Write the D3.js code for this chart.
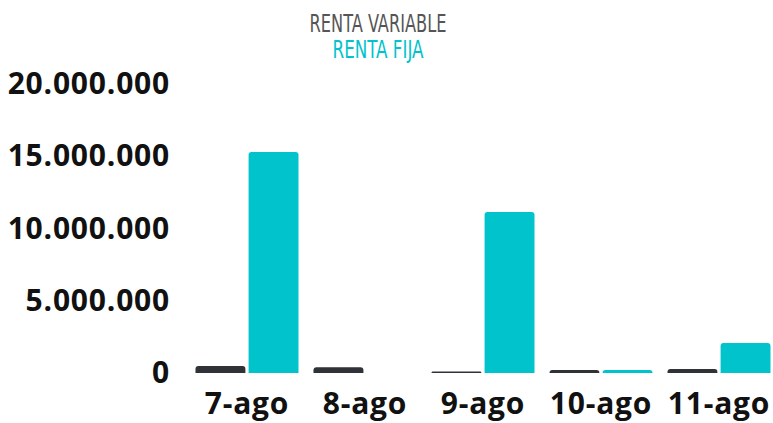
<!DOCTYPE html>
<html>
<head>
<meta charset="utf-8">
<script src="https://cdn.jsdelivr.net/npm/d3@7"></script>
<style>
  body { margin: 0; background: #fff; }
  .axis text { font-family: "Open Sans", sans-serif; font-weight: 700; fill: #111; }
  .legend text { font-family: "DejaVu Sans Condensed", "Liberation Sans", sans-serif; }
</style>
</head>
<body>
<div id="chart"></div>
<script>
var categories = ["7-ago", "8-ago", "9-ago", "10-ago", "11-ago"];
var seriesNames = ["RENTA VARIABLE", "RENTA FIJA"];
var rentaVariable = [480000, 400000, 100000, 200000, 270000];
var rentaFija = [15300000, 0, 11150000, 200000, 2080000];
var yTicks = [0, 5000000, 10000000, 15000000, 20000000];
var colors = ["#2f3337", "#00c3cc"];

var width = 773, height = 423;

var svg = d3.select("#chart").append("svg")
    .attr("width", width).attr("height", height);

// group scale, the last group runs off the right edge like in the original
var x0 = d3.scaleBand().domain(categories).range([188, 778])
    .paddingInner(0.127).paddingOuter(0.0635);
var x1 = d3.scaleBand().domain(seriesNames).range([0, x0.bandwidth()]).paddingInner(0.06);
var y = d3.scaleLinear().domain([0, 20000000]).range([373, 84]);

var fmt = function(d) { return d3.format(",")(d).replace(/,/g, "."); };

// bars with rounded top corners
function barPath(x, yTop, w, base) {
  var h = base - yTop;
  var r = Math.min(3, w / 2, h);
  return "M" + x + "," + base +
    "V" + (yTop + r) +
    "Q" + x + "," + yTop + " " + (x + r) + "," + yTop +
    "H" + (x + w - r) +
    "Q" + (x + w) + "," + yTop + " " + (x + w) + "," + (yTop + r) +
    "V" + base + "Z";
}

var rows = categories.map(function(c, i) {
  return { cat: c, values: [rentaVariable[i], rentaFija[i]] };
});

var groups = svg.append("g").selectAll("g")
    .data(rows).enter().append("g")
    .attr("transform", function(d) { return "translate(" + x0(d.cat) + ",0)"; });

groups.selectAll("path")
    .data(function(d) { return d.values.map(function(v, j) { return { name: seriesNames[j], v: v, j: j }; }); })
    .enter().filter(function(d) { return d.v > 0; }).append("path")
    .attr("fill", function(d) { return colors[d.j]; })
    .attr("d", function(d) { return barPath(x1(d.name), y(d.v), x1.bandwidth(), y(0)); });

// y axis
var yAxis = svg.append("g").attr("class", "axis")
    .attr("transform", "translate(170,0)")
    .call(d3.axisLeft(y).tickValues(yTicks).tickFormat(fmt).tickSize(0).tickPadding(0));
yAxis.select(".domain").remove();
yAxis.selectAll("text").style("font-size", "30px").style("letter-spacing", "0.8px");

// x axis (baseline at 414 so the descenders stay inside)
var xAxis = svg.append("g").attr("class", "axis")
    .attr("transform", "translate(0,414)")
    .call(d3.axisBottom(x0).tickSize(0).tickPadding(0));
xAxis.select(".domain").remove();
xAxis.selectAll("text").style("font-size", "30px").style("letter-spacing", "0.8px").attr("y", 0).attr("dy", 0);

// legend, squeezed to look like the condensed font of the original
var legendWidths = [137, 91];
var legend = svg.append("g").attr("class", "legend");
legend.selectAll("text").data(seriesNames).enter().append("text")
    .attr("x", 378)
    .attr("y", function(d, i) { return 32 + i * 26; })
    .attr("text-anchor", "middle")
    .attr("textLength", function(d, i) { return legendWidths[i]; })
    .attr("lengthAdjust", "spacingAndGlyphs")
    .style("font-size", "24px")
    .attr("fill", function(d, i) { return i === 0 ? "#555" : colors[1]; })
    .text(function(d) { return d; });
</script>
</body>
</html>
